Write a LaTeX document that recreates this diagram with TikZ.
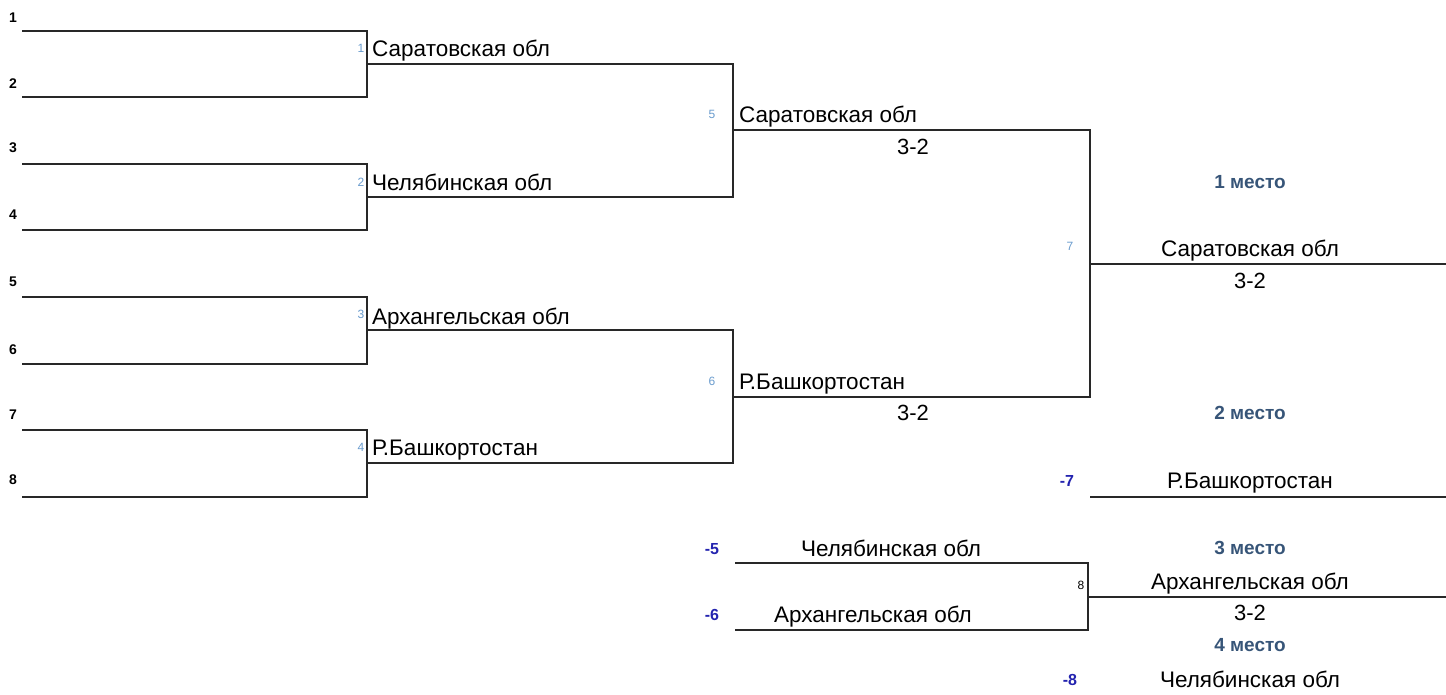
\documentclass[tikz,border=0pt]{standalone}
\usepackage{fontspec}
\setmainfont{Liberation Sans}
\usepackage{tikz}
\usetikzlibrary{positioning, calc}
\usepackage{xcolor}
\definecolor{matchblue}{RGB}{105, 155, 205}
\definecolor{loserblue}{RGB}{35, 35, 175}
\definecolor{placeblue}{RGB}{55, 85, 120}
\definecolor{linegray}{RGB}{40, 40, 40}

\begin{document}
\begin{tikzpicture}[
    x=1pt, y=-1pt,
    bline/.style={draw=linegray, line width=1.6pt},
    team/.style={inner sep=0pt, anchor=base, font=\fontsize{22.5}{25}\selectfont},
    score/.style={inner sep=0pt, anchor=base, font=\fontsize{22}{25}\selectfont},
    seednum/.style={inner sep=0pt, anchor=base, font=\fontsize{14}{16}\selectfont\bfseries},
    matchnum/.style={inner sep=0pt, anchor=base, font=\fontsize{12}{14}\selectfont, text=matchblue},
    losernum/.style={inner sep=0pt, anchor=base, font=\fontsize{16}{18}\selectfont\bfseries, text=loserblue},
    place/.style={inner sep=0pt, anchor=base, font=\fontsize{19}{21}\selectfont\bfseries, text=placeblue},
  ]
    \useasboundingbox (0,0) rectangle (1446,694);

    % Bracket points
    \coordinate (a1) at (22,31);
    \coordinate (a2) at (22,97);
    \coordinate (a3) at (22,164);
    \coordinate (a4) at (22,230);
    \coordinate (a5) at (22,297);
    \coordinate (a6) at (22,364);
    \coordinate (a7) at (22,430);
    \coordinate (a8) at (22,497);
    \coordinate (w1) at (367,64);
    \coordinate (w2) at (367,197);
    \coordinate (w3) at (367,330);
    \coordinate (w4) at (367,463);
    \coordinate (w5) at (733,130);
    \coordinate (w6) at (733,397);
    \coordinate (w7) at (1090,264);
    \coordinate (fin1) at (1446,264);
    \coordinate (l7) at (1090,497);
    \coordinate (fin2) at (1446,497);
    \coordinate (l5) at (735,563);
    \coordinate (l6) at (735,630);
    \coordinate (w8) at (1088,597);
    \coordinate (fin3) at (1446,597);

    % Round 1
    \draw[bline] (a1) -| (w1) |- (a2);
    \draw[bline] (a3) -| (w2) |- (a4);
    \draw[bline] (a5) -| (w3) |- (a6);
    \draw[bline] (a7) -| (w4) |- (a8);
    \node[seednum] (sd1) at (13,22) {1};
    \node[seednum] (sd2) at (13,88) {2};
    \node[seednum] (sd3) at (13,152) {3};
    \node[seednum] (sd4) at (13,219) {4};
    \node[seednum] (sd5) at (13,286) {5};
    \node[seednum] (sd6) at (13,354) {6};
    \node[seednum] (sd7) at (13,419) {7};
    \node[seednum] (sd8) at (13,484) {8};

    % Round 2 (semi-finals)
    \draw[bline] (w1) -| (w5) |- (w2);
    \draw[bline] (w3) -| (w6) |- (w4);
    \node[matchnum] (m1) at (361,52) {1};
    \node[matchnum] (m2) at (361,186) {2};
    \node[matchnum] (m3) at (361,318) {3};
    \node[matchnum] (m4) at (361,451) {4};
    \node[team, anchor=base west] (r1) at (372,56) {Саратовская обл};
    \node[team, anchor=base west] (r2) at (372,190) {Челябинская обл};
    \node[team, anchor=base west] (r3) at (372,324) {Архангельская обл};
    \node[team, anchor=base west] (r4) at (372,455) {Р.Башкортостан};

    % Final
    \draw[bline] (w5) -| (w7) |- (w6);
    \draw[bline] (w7) -- (fin1);
    \node[matchnum] (m5) at (712,118) {5};
    \node[matchnum] (m6) at (712,385) {6};
    \node[matchnum] (m7) at (1070,250) {7};
    \node[team, anchor=base west] (s1) at (739,122) {Саратовская обл};
    \node[score] (sc5) at (913,154) {3-2};
    \node[team, anchor=base west] (s2) at (739,389) {Р.Башкортостан};
    \node[score] (sc6) at (913,420) {3-2};

    % Places 1 and 2
    \node[place] (p1) at (1250,188) {1 место};
    \node[team] (gold) at (1250,256) {Саратовская обл};
    \node[score] (sc7) at (1250,288) {3-2};
    \node[place] (p2) at (1250,419) {2 место};
    \draw[bline] (l7) -- (fin2);
    \node[losernum] (x7) at (1067,486) {-7};
    \node[team] (silver) at (1250,488) {Р.Башкортостан};

    % Match for 3rd place
    \draw[bline] (l5) -| (w8) |- (l6);
    \draw[bline] (w8) -- (fin3);
    \node[losernum] (x5) at (712,554) {-5};
    \node[team] (b1) at (891,556) {Челябинская обл};
    \node[losernum] (x6) at (712,620) {-6};
    \node[team] (b2) at (873,622) {Архангельская обл};
    \node[inner sep=0pt, anchor=base, font=\fontsize{12}{14}\selectfont] (m8) at (1081,589) {8};
    \node[place] (p3) at (1250,554) {3 место};
    \node[team] (bronze) at (1250,589) {Архангельская обл};
    \node[score] (sc8) at (1250,620) {3-2};
    \node[place] (p4) at (1250,651) {4 место};
    \node[losernum] (x8) at (1070,685) {-8};
    \node[team] (fourth) at (1250,687) {Челябинская обл};
\end{tikzpicture}
\end{document}
